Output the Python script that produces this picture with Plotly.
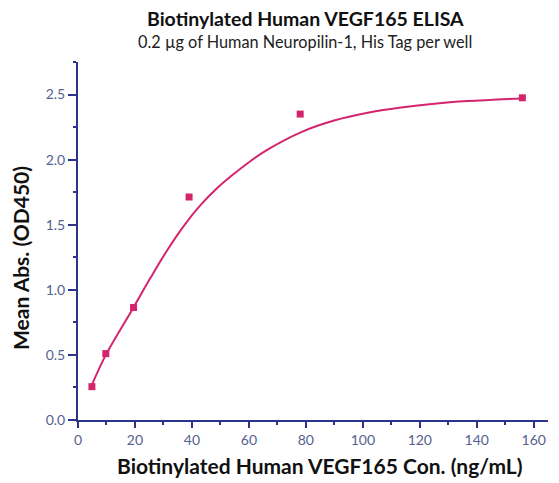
import plotly.graph_objects as go

# Measured points
conc = [4.88, 9.77, 19.5, 39.0, 78.0, 156.0]
od450 = [0.256, 0.51, 0.864, 1.713, 2.35, 2.475]

# Fitted curve
curve_x = [4.88, 9.77, 19.5, 25.4, 31.2, 37.1, 43.0, 48.8, 54.7, 60.6, 66.4,
           78.2, 89.9, 101.7, 113.4, 125.1, 136.9, 156.0]
curve_y = [0.27, 0.50, 0.865, 1.09, 1.30, 1.49, 1.65, 1.78, 1.89, 1.99, 2.075,
           2.21, 2.30, 2.36, 2.40, 2.43, 2.45, 2.47]

x_ticks = [0, 20, 40, 60, 80, 100, 120, 140, 160]
y_ticks = [0.0, 0.5, 1.0, 1.5, 2.0, 2.5]

title = "Biotinylated Human VEGF165 ELISA"
subtitle = "0.2 µg of Human Neuropilin-1, His Tag per well"
x_title = "Biotinylated Human VEGF165 Con. (ng/mL)"
y_title = "Mean Abs. (OD450)"

mark = "#d4246e"
axis_col = "#2b3488"
lab_col = "#56618f"
FONT = "Lato"

# page body has an 8px margin; figure sized to fit inside the window
OFF = 8
W, H = 559 - OFF, 483 - OFF
ML, MT = 78 - OFF, 62 - OFF
MR = W - (548 - OFF)
MB = H - (420 - OFF)
pw, ph = W - ML - MR, H - MT - MB


def px2paper(px, py):
    px -= OFF
    py -= OFF
    return (px - ML) / pw, 1 + (MT - py) / ph


fig = go.Figure()
fig.add_trace(go.Scatter(x=curve_x, y=curve_y, mode="lines",
                         line=dict(color=mark, width=2, shape="spline", smoothing=1.0),
                         hoverinfo="skip", showlegend=False))
fig.add_trace(go.Scatter(x=conc, y=od450, mode="markers",
                         marker=dict(symbol="square", size=7, color=mark),
                         showlegend=False))

tx, ty = px2paper(305, 18)
sx, sy = px2paper(305, 42)
xtx, xty = px2paper(320, 465)
ytx, yty = px2paper(20, 258)
fig.update_layout(
    width=W, height=H,
    margin=dict(l=ML, r=MR, t=MT, b=MB),
    paper_bgcolor="white", plot_bgcolor="white",
    font=dict(family=FONT, size=14, color=lab_col),
    annotations=[
        dict(text="<b>" + title + "</b>", x=tx, y=ty, xref="paper", yref="paper",
             xanchor="center", yanchor="middle",
             showarrow=False, font=dict(family=FONT, size=19.5, color="#111111")),
        dict(text=subtitle, x=sx, y=sy, xref="paper", yref="paper",
             xanchor="center", yanchor="middle",
             showarrow=False, font=dict(family=FONT, size=16.3, color="#222222")),
        dict(text="<b>" + x_title + "</b>", x=xtx, y=xty, xref="paper", yref="paper",
             xanchor="center", yanchor="middle",
             showarrow=False, font=dict(family=FONT, size=21, color="#111111")),
        dict(text="<b>" + y_title + "</b>", x=ytx, y=yty, xref="paper", yref="paper",
             xanchor="center", yanchor="middle", textangle=-90,
             showarrow=False, font=dict(family=FONT, size=21, color="#111111")),
    ],
)

fig.update_xaxes(
    range=[0, 165], tickvals=x_ticks, ticktext=[str(v) for v in x_ticks],
    automargin=False,
    showgrid=False, zeroline=False, showline=True, linecolor=axis_col, linewidth=2,
    ticks="outside", ticklen=6, tickwidth=1.5, tickcolor=axis_col,
    minor=dict(dtick=10, ticks="outside", ticklen=3, tickcolor=axis_col, tickwidth=1.5),
    tickfont=dict(family=FONT, size=14, color=lab_col),
)
fig.update_yaxes(
    range=[0, 2.75], tickvals=y_ticks, ticktext=["%.1f" % v for v in y_ticks],
    automargin=False,
    showgrid=False, zeroline=False, showline=True, linecolor=axis_col, linewidth=2,
    ticks="outside", ticklen=8, tickwidth=1.5, tickcolor=axis_col,
    minor=dict(dtick=0.25, ticks="outside", ticklen=3, tickcolor=axis_col, tickwidth=1.5),
    tickfont=dict(family=FONT, size=14, color=lab_col),
)

fig.write_html("out.html")
